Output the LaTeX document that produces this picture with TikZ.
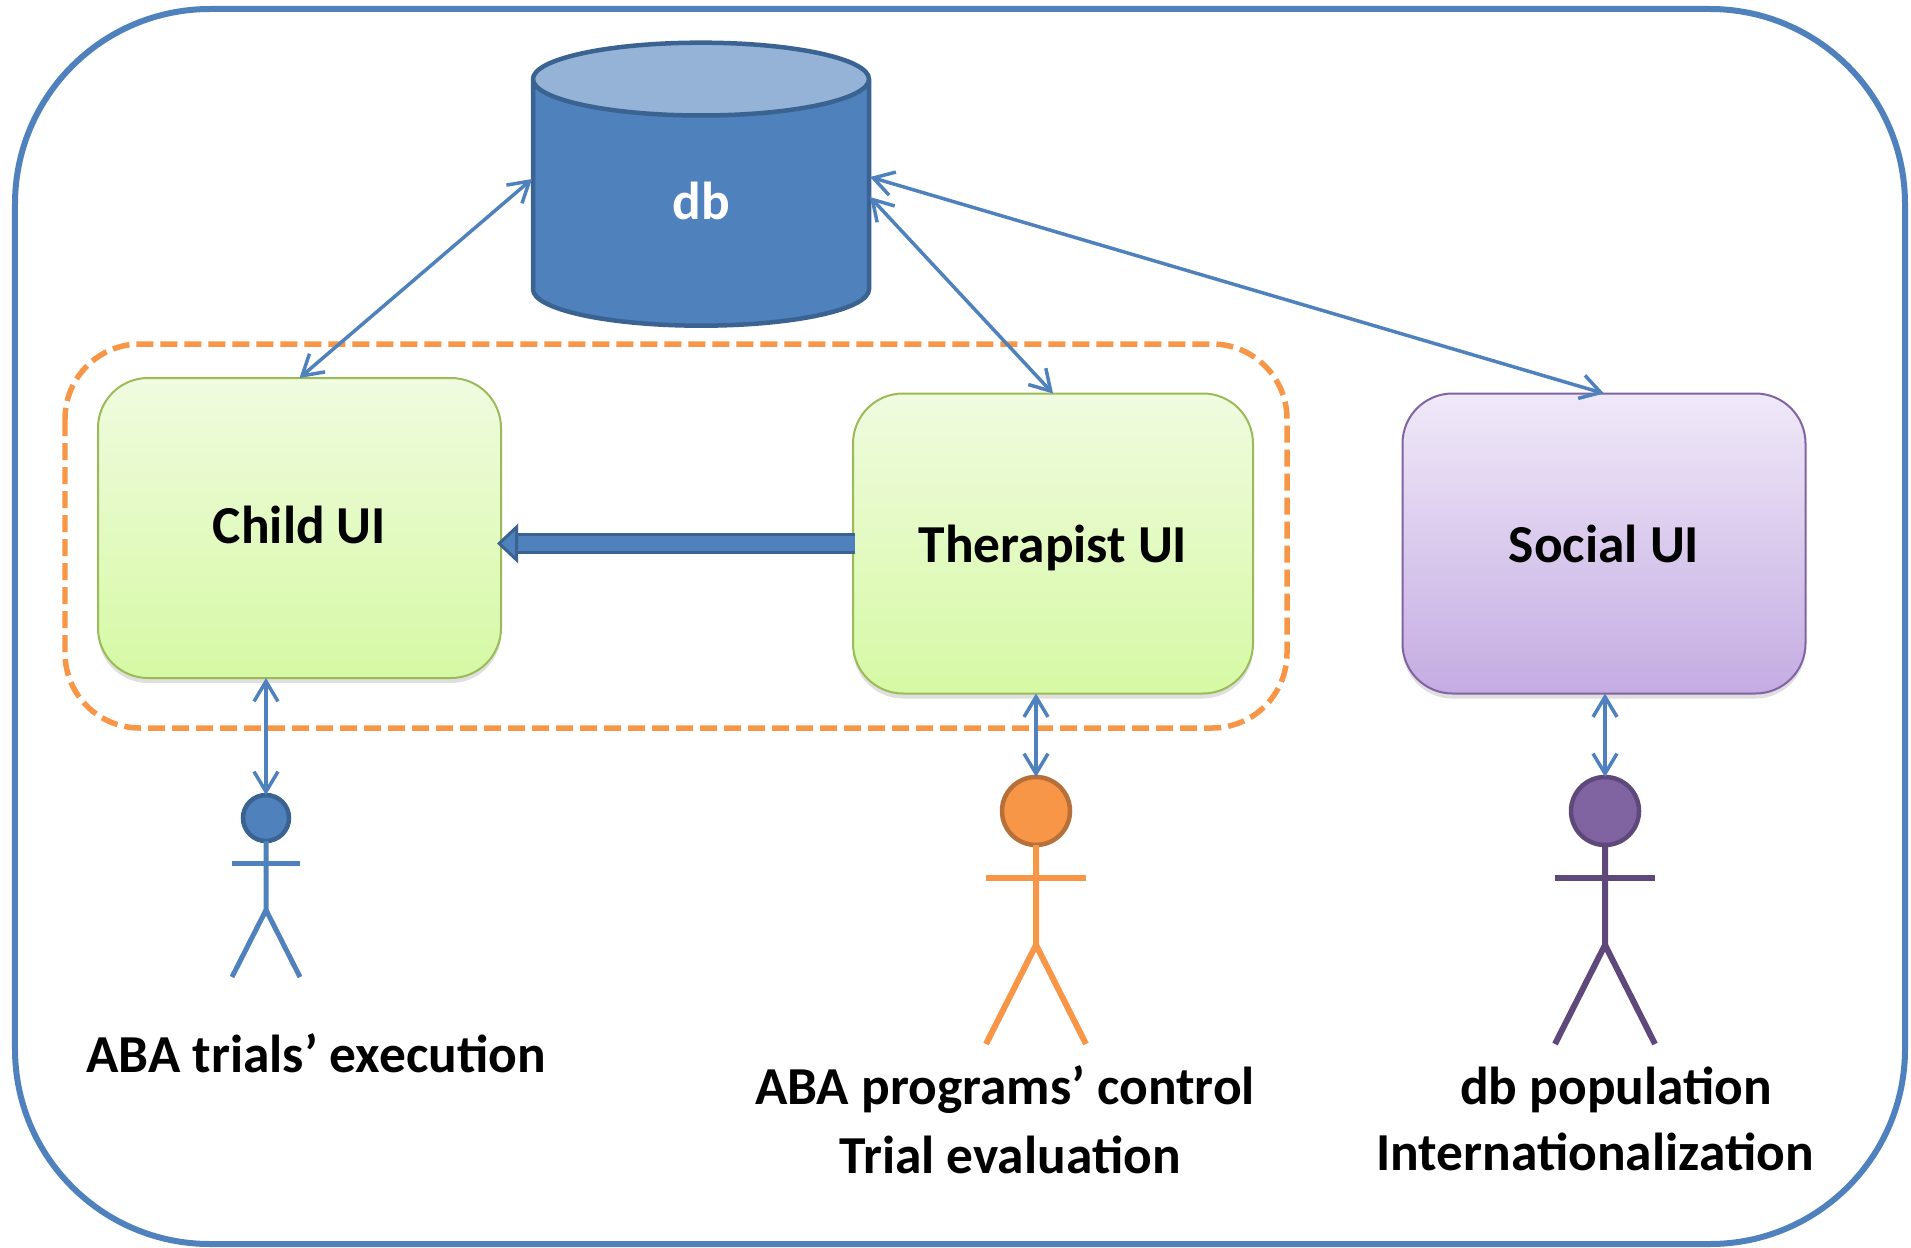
\documentclass[tikz,border=0pt]{standalone}
\usepackage{fontspec}
\setmainfont{Carlito}
\usetikzlibrary{arrows.meta}
\usetikzlibrary{positioning}
\usetikzlibrary{shadows}
\usetikzlibrary{shapes.geometric}
\definecolor{mblue}{HTML}{4F81BD}
\definecolor{mdark}{HTML}{3A6391}
\definecolor{mpale}{HTML}{95B3D7}
\definecolor{morange}{HTML}{F79646}
\definecolor{morangedark}{HTML}{B8703A}
\definecolor{mpurple}{HTML}{8064A2}
\definecolor{mpurpledark}{HTML}{5F497A}
\definecolor{mgreen}{HTML}{9BBB59}
\definecolor{greentop}{HTML}{F0FBE0}
\definecolor{greenbottom}{HTML}{D6F9A4}
\definecolor{purpletop}{HTML}{F0E9F8}
\definecolor{purplebottom}{HTML}{C4ACE2}
\tikzset{
  uibox/.style = {draw, rounded corners=0.5cm, line width=0.02cm, minimum width=4.03cm, minimum height=3cm, inner sep=0, outer sep=0,
    text height=0.37cm, text depth=0cm, font=\fontsize{15.2}{18}\selectfont\bfseries, drop shadow={shadow xshift=0cm, shadow yshift=-0.05cm, opacity=0.25}},
  greenbox/.style = {uibox, draw=mgreen, top color=greentop, bottom color=greenbottom},
  purplebox/.style = {uibox, draw=mpurple, top color=purpletop, bottom color=purplebottom},
  dbstore/.style = {draw=mdark, cylinder, shape border rotate=90, aspect=1.27, line width=0.045cm, minimum width=3.36cm, minimum height=2.83cm, inner sep=0, outer sep=0,
    cylinder uses custom fill, cylinder body fill=mblue, cylinder end fill=mpale, text=white, text depth=0.06cm, font=\fontsize{15.2}{18}\selectfont\bfseries},
  link/.style = {mblue, line width=0.035cm, {Straight Barb[length=0.2cm, width=0.24cm]}-{Straight Barb[length=0.2cm, width=0.24cm]}},
  bigarrow/.style = {draw=mdark, double=mblue, line width=0.03cm, double distance=0.15cm, shorten >=-0.04cm, shorten <=-0.02cm,
    -{Triangle[length=0.21cm, width=0.39cm, line width=0.03cm, fill=mblue, color=mdark]}},
  head/.style = {circle, inner sep=0, outer sep=0, line width=0.045cm},
  limb/.style = {line width=0.06cm},
  caption/.style = {font=\fontsize{15.2}{18}\selectfont\bfseries, inner sep=0},
}

\begin{document}
\begin{tikzpicture}[y=-1cm]
    \useasboundingbox (0, 0) rectangle (19.11, 12.47);

    \draw [mblue, line width=0.06cm, rounded corners=1.95cm] (0.15, 0.09) rectangle (19.05, 12.44);
    \draw [morange, line width=0.055cm, rounded corners=0.75cm, dash pattern=on 0.17cm off 0.07cm] (0.65, 3.44) rectangle (12.87, 7.28);

    \node [dbstore] (db) at (7.01, 2.035) {db};
    \node [greenbox, text depth=0.06cm] (child) at (2.995, 5.28) {Child UI};
    \node [greenbox, minimum width=4cm] (therapist) at (10.53, 5.435) {Therapist UI};
    \node [purplebox] (social) at (16.04, 5.435) {Social UI};

    \coordinate (dbleft) at (5.32, 1.79);
    \coordinate (dbright) at (8.70, 1.97);
    \coordinate (dbfar) at (8.70, 1.77);

    \begin{scope}[shift={(2.66, 8.18)}]
      \node [head, draw=mdark, fill=mblue, minimum size=0.46cm] (childhead) at (0, 0) {};
      \draw [limb, mblue, line width=0.05cm] (childhead.south) -- (0, 0.92) -- (-0.34, 1.59);
      \draw [limb, mblue, line width=0.05cm] (0, 0.92) -- (0.34, 1.59);
      \draw [limb, mblue, line width=0.05cm] (-0.34, 0.45) -- (0.34, 0.45);
    \end{scope}
    \begin{scope}[shift={(10.36, 8.11)}]
      \node [head, draw=morangedark, fill=morange, minimum size=0.68cm] (therapisthead) at (0, 0) {};
      \draw [limb, morange] (therapisthead.south) -- (0, 1.34) -- (-0.5, 2.33);
      \draw [limb, morange] (0, 1.34) -- (0.5, 2.33);
      \draw [limb, morange] (-0.5, 0.67) -- (0.5, 0.67);
    \end{scope}
    \begin{scope}[shift={(16.05, 8.11)}]
      \node [head, draw=mpurpledark, fill=mpurple, minimum size=0.68cm] (socialhead) at (0, 0) {};
      \draw [limb, mpurpledark] (socialhead.south) -- (0, 1.34) -- (-0.5, 2.33);
      \draw [limb, mpurpledark] (0, 1.34) -- (0.5, 2.33);
      \draw [limb, mpurpledark] (-0.5, 0.67) -- (0.5, 0.67);
    \end{scope}

    \draw [link] (dbleft) -- (child.north);
    \draw [link] (dbright) -- (therapist.north);
    \draw [link] (dbfar) -- (social.north);
    \draw [link] (childhead.north |- child.south) -- (childhead.north);
    \draw [link] (therapisthead.north |- therapist.south) -- (therapisthead.north);
    \draw [link] (socialhead.north |- social.south) -- (socialhead.north);
    \draw [bigarrow] (therapist.west) -- (therapist.west -| child.east);

    \node [caption] (childtask) at (3.16, 10.53) {ABA trials’ execution};
    \node [caption] (therapisttask) at (10.05, 10.90) {ABA programs’ control};
    \node [caption] (therapisteval) at (10.10, 11.55) {Trial evaluation};
    \node [caption] (socialtask) at (16.16, 10.90) {db population};
    \node [caption] (socialintl) at (15.95, 11.52) {Internationalization};
\end{tikzpicture}
\end{document}
